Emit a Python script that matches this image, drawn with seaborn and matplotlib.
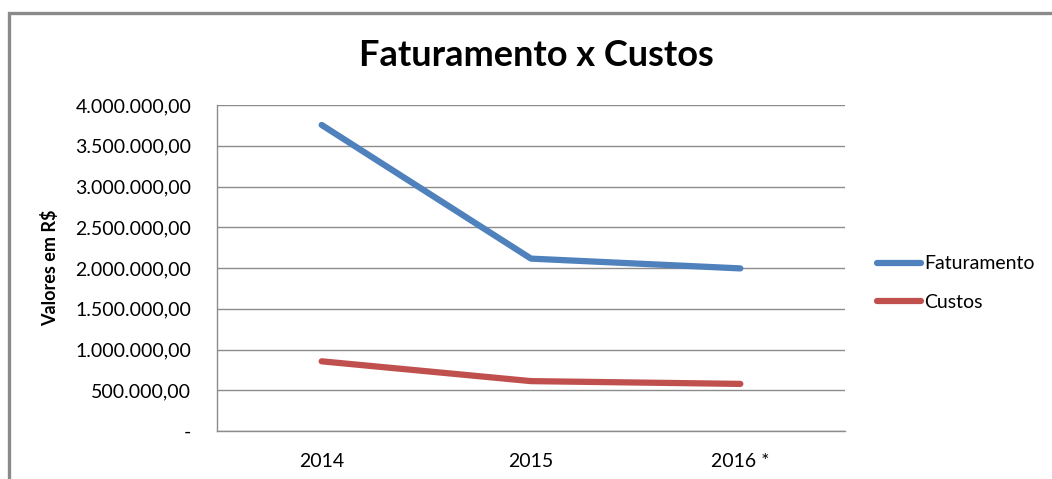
import matplotlib
matplotlib.use('Agg')
import matplotlib.pyplot as plt
import matplotlib.patches as patches
from matplotlib.ticker import FuncFormatter
import seaborn as sns
import pandas as pd

# dados
anos = ['2014', '2015', '2016 *']
faturamento = [3755000, 2115000, 1995000]
custos = [855000, 612000, 578000]
series = ['Faturamento', 'Custos']
cores = ['#4F81BD', '#C0504D']

df = pd.DataFrame({
    'ano': anos * 2,
    'valor': faturamento + custos,
    'serie': [series[0]] * 3 + [series[1]] * 3,
})

sns.set_style('white')
plt.rcParams['font.family'] = ['Lato', 'DejaVu Sans']
plt.rcParams['text.color'] = 'black'
plt.rcParams['xtick.color'] = 'black'
plt.rcParams['ytick.color'] = 'black'
plt.rcParams['axes.labelcolor'] = 'black'

fig = plt.figure(figsize=(10.52, 4.79), dpi=100)
ax = fig.add_axes([217 / 1052, 1 - 431 / 479, (845 - 217) / 1052, (431 - 105) / 479])

sns.lineplot(data=df, x='ano', y='valor', hue='serie', palette=cores,
             linewidth=4.5, sort=False, ax=ax, legend=False,
             solid_capstyle='round')

ax.set_xlim(-0.5, 2.5)
ax.set_ylim(0, 4000000)
ax.set_yticks(range(0, 4000001, 500000))


def fmt_brl(v, pos):
    if v == 0:
        return '-'
    s = '{:,.2f}'.format(v)
    return s.replace(',', 'X').replace('.', ',').replace('X', '.')


ax.yaxis.set_major_formatter(FuncFormatter(fmt_brl))
ax.grid(axis='y', color='#8c8c8c', linewidth=1)
ax.grid(axis='x', visible=False)
for side in ['top', 'right']:
    ax.spines[side].set_visible(False)
for side in ['left', 'bottom']:
    ax.spines[side].set_color('#8c8c8c')
    ax.spines[side].set_linewidth(1)
ax.tick_params(axis='y', length=4, color='#8c8c8c', labelsize=14, pad=14.5)
ax.tick_params(axis='x', length=0, labelsize=14, pad=16)
ax.set_xlabel('')
ax.set_ylabel('Valores em R$', fontsize=13, fontweight='bold', labelpad=12)

fig.text(536 / 1052, 1 - 56 / 479, 'Faturamento x Custos', fontsize=26,
         fontweight='bold', ha='center', va='center')

# legenda
handles = [plt.Line2D([], [], color=c, linewidth=4.5, solid_capstyle='round') for c in cores]
fig.legend(handles, series, loc='center left',
           bbox_to_anchor=(859 / 1052, 1 - 283 / 479), frameon=False,
           fontsize=14, handlelength=2.3, handletextpad=0.15, labelspacing=1.1)

# moldura cinza do grafico
frame = patches.Rectangle((9.5 / 1052, -0.2), 1.2, 1 - 12.5 / 479 + 0.2,
                          transform=fig.transFigure, fill=False,
                          edgecolor='#8a8a8a', linewidth=2.4, clip_on=False)
fig.patches.append(frame)

fig.savefig('out.png', dpi=100)
